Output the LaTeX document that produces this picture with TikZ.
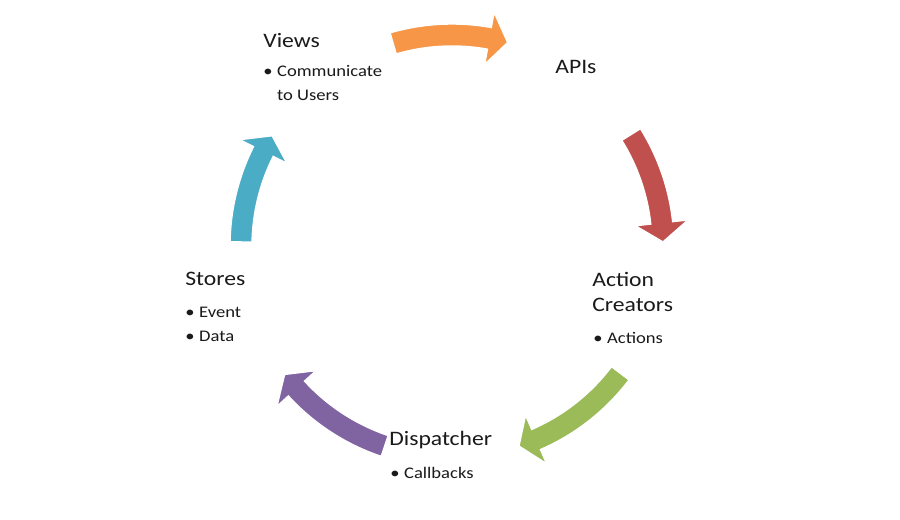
\documentclass[tikz,border=0pt]{standalone}
\usepackage{fontspec}
\setmainfont[FakeStretch=1.15]{Carlito}
\usepackage{xcolor}
\usepackage{tikz}
\usetikzlibrary{positioning}
\definecolor{ink}{HTML}{1A1A1A}
\definecolor{accorange}{HTML}{F79646}
\definecolor{accred}{HTML}{C0504D}
\definecolor{accgreen}{HTML}{9BBB59}
\definecolor{accpurple}{HTML}{8064A2}
\definecolor{accblue}{HTML}{4BACC6}
\tikzset{
  head/.style={text=ink, font=\fontsize{11.7}{14.6}\selectfont, anchor=base west, inner sep=0pt, align=left},
  items/.style={text=ink, font=\fontsize{9.2}{13.2}\selectfont, anchor=base west, inner sep=0pt},
  cyclearrow/.style={draw=white, line width=0.8pt, line join=miter},
}
\newcommand{\bul}[1]{\begin{tabular}[t]{@{}l@{\hspace{2.6pt}}l@{}}#1\end{tabular}}

\begin{document}
\begin{tikzpicture}[x=0.02cm, y=0.02cm]
  \useasboundingbox[fill=white] (0,0) rectangle (900,520);
  \pgfmathsetmacro{\R}{211}
  \pgfmathsetmacro{\w}{11}   % half width of the shaft
  \pgfmathsetmacro{\h}{26.5} % half width of the head
  \coordinate (C) at (452,274);
  % the five curved arrows: tail / barbs / tip angle
  \foreach \a/\b/\t/\col in {106.2/79.8/74.7/accorange, 31.9/6.3/1.1/accred,
      -37.1/-66.5/-71.5/accgreen, -108.6/-137.5/-142.5/accpurple, 178.9/153.4/148.5/accblue} {
    \fill[cyclearrow, fill=\col, shift={(C)}]
      (\a:\R+\w) arc[start angle=\a, end angle=\b, radius=\R+\w]
      -- (\b:\R+\h) -- (\t:\R) -- (\b:\R-\h) -- (\b:\R-\w)
      arc[start angle=\b, end angle=\a, radius=\R-\w] -- cycle;
  }
  \node[head] (views) at (263,472) {Views};
  \node[items] (viewsList) at (263,443) {\bul{• & Communicate\\ & to Users}};
  \node[head] (apis) at (555,446) {APIs};
  \node[head] (creators) at (592,208.3) {Action\\Creators}; % base = last line
  \node[items] (creatorsList) at (593,176.7) {\bul{• & Actions}};
  \node[head] (dispatcher) at (389,74) {Dispatcher};
  \node[items] (dispatcherList) at (390,41.7) {\bul{• & Callbacks}};
  \node[head] (stores) at (185,234) {Stores};
  \node[items] (storesList) at (185,202) {\bul{• & Event\\ • & Data}};
\end{tikzpicture}
\end{document}
